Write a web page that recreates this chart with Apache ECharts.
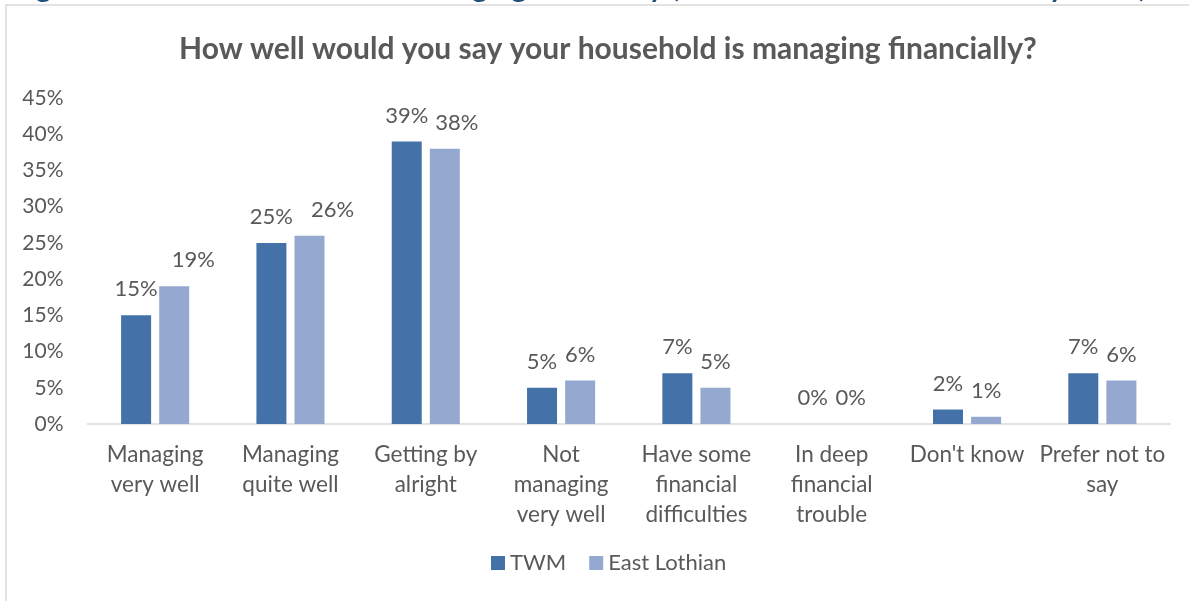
<!DOCTYPE html>
<html>
<head>
<meta charset="utf-8">
<script src="https://cdn.jsdelivr.net/npm/echarts@6/dist/echarts.min.js"></script>
<style>
  html, body { margin: 0; padding: 0; background: #ffffff; }
  #chart { width: 1189px; height: 601px; }
</style>
</head>
<body>
<div id="chart"></div>
<script>
// Household financial situation, share of respondents per answer
const categories = [
  'Managing\nvery well',
  'Managing\nquite well',
  'Getting by\nalright',
  'Not\nmanaging\nvery well',
  'Have some\nfinancial\ndifficulties',
  'In deep\nfinancial\ntrouble',
  "Don't know",
  'Prefer not to\nsay'
];
const twm = [15, 25, 39, 5, 7, 0, 2, 7];
const eastLothian = [19, 26, 38, 6, 5, 0, 1, 6];
const yTicks = [0, 5, 10, 15, 20, 25, 30, 35, 40, 45];

// horizontal nudge (px) for second-series labels that would collide with their neighbour
const labelNudge = [19, 23, 12, 0, 0, 0, 0, 0];

const FONT = 'Lato';
const TEXT = '#595959';

const chart = echarts.init(document.getElementById('chart'), null, { renderer: 'canvas' });

const valueLabel = {
  show: true,
  position: 'top',
  distance: 15,
  formatter: p => p.value + '%',
  color: TEXT,
  fontFamily: FONT,
  fontSize: 22
};

chart.setOption({
  animation: false,
  backgroundColor: '#ffffff',
  graphic: [
    {
      type: 'rect',
      shape: { x: 6, y: 5, width: 1300, height: 700 },
      style: { fill: 'none', stroke: '#d9d9d9', lineWidth: 1.5 },
      silent: true
    },
    {
      type: 'text',
      x: 12,
      y: -12,
      style: {
        text: 'Figure 6: How households are managing financially (East Lothian Residents Survey 2019)',
        fill: '#1F4E79',
        font: 'bold 29px ' + FONT,
        textVerticalAlign: 'middle'
      },
      silent: true
    }
  ],
  title: {
    text: 'How well would you say your household is managing financially?',
    left: 174,
    top: 29,
    textStyle: {
      color: TEXT,
      fontFamily: FONT,
      fontWeight: 'bold',
      fontSize: 30
    }
  },
  legend: {
    bottom: 22,
    left: 486,
    itemWidth: 14,
    itemHeight: 14,
    itemGap: 23,
    icon: 'rect',
    textStyle: { color: TEXT, fontFamily: FONT, fontSize: 22 },
    data: ['TWM', 'East Lothian']
  },
  grid: {
    left: 87.5,
    right: 19,
    top: 98,
    bottom: 177,
    containLabel: false
  },
  xAxis: {
    type: 'category',
    data: categories,
    axisLine: { lineStyle: { color: '#d9d9d9', width: 1.5 } },
    axisTick: { show: false },
    axisLabel: {
      color: TEXT,
      fontFamily: FONT,
      fontSize: 22.5,
      lineHeight: 30,
      margin: 16,
      interval: 0
    }
  },
  yAxis: {
    type: 'value',
    min: 0,
    max: 45,
    interval: 5,
    axisLine: { show: false },
    axisTick: { show: false },
    splitLine: { show: false },
    axisLabel: {
      color: TEXT,
      fontFamily: FONT,
      fontSize: 21,
      margin: 24,
      formatter: v => (yTicks.includes(v) ? v + '%' : '')
    }
  },
  series: [
    {
      name: 'TWM',
      type: 'bar',
      data: twm,
      barWidth: 30,
      barGap: '27%',
      itemStyle: { color: '#4472A8' },
      label: valueLabel
    },
    {
      name: 'East Lothian',
      type: 'bar',
      data: eastLothian.map((v, i) => ({
        value: v,
        label: { offset: [labelNudge[i], 0] }
      })),
      barWidth: 30,
      itemStyle: { color: '#95A9D0' },
      label: valueLabel
    }
  ]
});
</script>
</body>
</html>
